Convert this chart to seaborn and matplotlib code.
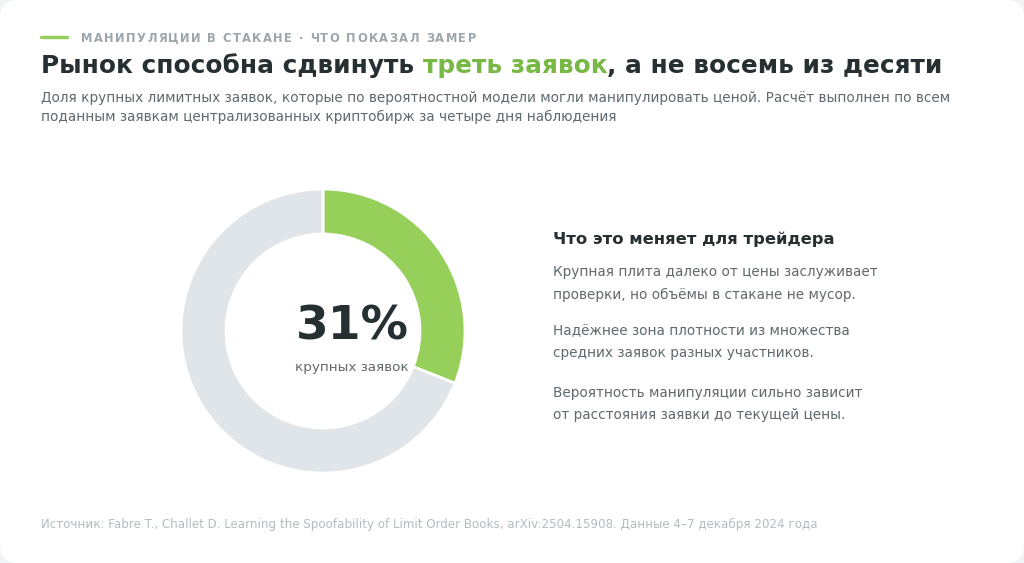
import matplotlib
matplotlib.use("Agg")
import matplotlib.pyplot as plt
from matplotlib.patches import FancyBboxPatch
import seaborn as sns

# Данные
share_labels = ["Могли манипулировать", "Остальные"]
share_values = [31, 69]
center_value = "31%"
center_caption = "крупных заявок"

kicker = "МАНИПУЛЯЦИИ В СТАКАНЕ · ЧТО ПОКАЗАЛ ЗАМЕР"
title_parts = ["Рынок способна сдвинуть ", "треть заявок", ", а не восемь из десяти"]
subtitle_lines = [
    "Доля крупных лимитных заявок, которые по вероятностной модели могли манипулировать ценой. Расчёт выполнен по всем",
    "поданным заявкам централизованных криптобирж за четыре дня наблюдения",
]
side_heading = "Что это меняет для трейдера"
side_paragraphs = [
    ["Крупная плита далеко от цены заслуживает", "проверки, но объёмы в стакане не мусор."],
    ["Надёжнее зона плотности из множества", "средних заявок разных участников."],
    ["Вероятность манипуляции сильно зависит", "от расстояния заявки до текущей цены."],
]
source = ("Источник: Fabre T., Challet D. Learning the Spoofability of Limit Order Books, "
          "arXiv:2504.15908. Данные 4–7 декабря 2024 года")

GREEN = "#97cf5b"
GREEN_TXT = "#77b944"
RING_GREY = "#dfe5e8"
DARK = "#263033"
MUTED = "#5f6a6f"
KICKER_C = "#9da6ab"
FOOT_C = "#b4bcc0"

W, H = 1024, 563
sns.set_theme(style="white")
plt.rcParams["font.family"] = ["DejaVu Sans"]

fig = plt.figure(figsize=(W / 100, H / 100), dpi=100)
fig.patch.set_facecolor("#f1f3f4")
# белая карточка со скруглёнными углами
card = FancyBboxPatch((0, 0), 1, 1,
                      boxstyle="round,pad=0,rounding_size=0.018",
                      transform=fig.transFigure, facecolor="white", edgecolor="none",
                      mutation_aspect=W / H, zorder=-10)
fig.patches.append(card)


def px(x, y):
    return x / W, 1 - y / H


def put(x, y, s, **kw):
    return fig.text(*px(x, y), s, va="baseline", **kw)


renderer = fig.canvas.get_renderer()


def width_px(t):
    return t.get_window_extent(renderer=renderer).width


# надзаголовок с зелёной чертой
fig.add_artist(plt.Line2D([41 / W, 67 / W], [1 - 37 / H] * 2, color=GREEN, lw=2.5,
                          transform=fig.transFigure))
x = 81
for ch in kicker:
    t = put(x, 42, ch, fontsize=8.3, fontweight="bold", color=KICKER_C)
    x += width_px(t) + 1.4

# заголовок из кусков разного цвета
x = 41
for i, part in enumerate(title_parts):
    t = put(x, 73, part, fontsize=17.8, fontweight="bold",
            color=GREEN_TXT if i == 1 else DARK)
    x += width_px(t)

for i, line in enumerate(subtitle_lines):
    put(41, 102 + i * 19.5, line, fontsize=9.8, color=MUTED)

# кольцевая диаграмма
cx, cy, r = 323, 331, 142
ax = fig.add_axes([(cx - r) / W, 1 - (cy + r) / H, 2 * r / W, 2 * r / H])
ax.pie(share_values, colors=[GREEN, RING_GREY], startangle=90, counterclock=False,
       radius=1, wedgeprops=dict(width=0.317, edgecolor="white", linewidth=2))
ax.set_xlim(-1, 1)
ax.set_ylim(-1, 1)
ax.set_aspect("equal")
ax.axis("off")

put(352, 339, center_value, fontsize=34, fontweight="bold", color=DARK, ha="center",
    zorder=5)
put(352, 371, center_caption, fontsize=9.7, color=MUTED, ha="center", zorder=5)

# пояснения справа
put(553, 244, side_heading, fontsize=11.8, fontweight="bold", color=DARK)
para_y = [276, 335, 397]
for y0, para in zip(para_y, side_paragraphs):
    for j, line in enumerate(para):
        put(553, y0 + j * 22.5, line, fontsize=9.8, color=MUTED)

put(41, 528, source, fontsize=8.55, color=FOOT_C)

fig.savefig("out.png", dpi=100, facecolor=fig.get_facecolor())
